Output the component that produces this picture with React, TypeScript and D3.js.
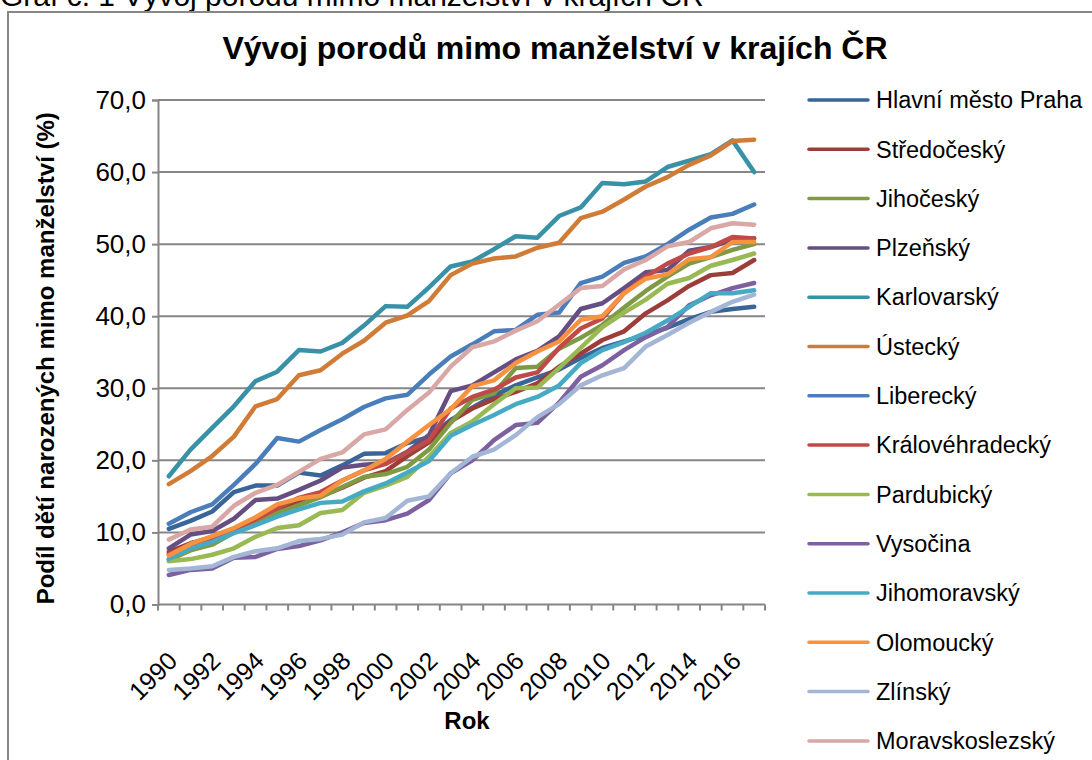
import React, { useEffect, useRef } from 'react';
import * as d3 from 'd3';

const years = [1990, 1991, 1992, 1993, 1994, 1995, 1996, 1997, 1998, 1999, 2000, 2001, 2002, 2003,
  2004, 2005, 2006, 2007, 2008, 2009, 2010, 2011, 2012, 2013, 2014, 2015, 2016, 2017];

const regions = ['Hlavní město Praha', 'Středočeský', 'Jihočeský', 'Plzeňský', 'Karlovarský', 'Ústecký',
  'Liberecký', 'Královéhradecký', 'Pardubický', 'Vysočina', 'Jihomoravský', 'Olomoucký', 'Zlínský',
  'Moravskoslezský'];

const colors = ['#3a6598', '#9c3d3a', '#7e9a44', '#654f82', '#3891a6', '#d17c36', '#4a7ebb', '#be4b48',
  '#98b954', '#7d60a0', '#46aac5', '#f69240', '#a4b6d5', '#d9a7a5'];

const praha = [10.5, 11.6, 12.9, 15.6, 16.5, 16.5, 18.3, 17.9, 19.3, 20.9, 21.0, 22.4, 23.2, 25.6,
  27.3, 29.0, 30.4, 31.5, 32.6, 34.2, 35.6, 36.5, 37.4, 38.4, 39.6, 40.6, 41.0, 41.3];
const stredocesky = [7.3, 8.5, 9.3, 10.4, 11.8, 12.9, 14.2, 15.0, 16.2, 17.6, 18.5, 20.6, 22.5, 25.4,
  27.2, 28.5, 29.5, 30.7, 33.0, 34.8, 36.7, 37.9, 40.4, 42.2, 44.2, 45.7, 46.0, 47.8];
const jihocesky = [6.2, 7.5, 8.3, 10.0, 11.5, 12.7, 13.8, 14.9, 16.3, 17.7, 18.1, 19.1, 21.5, 25.2,
  28.4, 29.3, 32.8, 33.0, 35.5, 37.0, 38.8, 41.2, 43.5, 45.5, 47.3, 48.2, 49.2, 50.0];
const plzensky = [7.8, 9.7, 10.2, 11.9, 14.5, 14.7, 15.9, 17.2, 19.0, 19.4, 19.6, 21.2, 23.5, 29.6,
  30.4, 32.2, 34.0, 35.2, 37.2, 41.0, 41.8, 43.9, 46.1, 46.4, 49.1, 49.6, 50.6, 50.8];
const karlovarsky = [17.8, 21.5, 24.5, 27.5, 31.0, 32.3, 35.3, 35.1, 36.3, 38.7, 41.4, 41.3, 44.0, 46.9,
  47.6, 49.3, 51.1, 50.9, 53.9, 55.1, 58.5, 58.3, 58.7, 60.7, 61.6, 62.5, 64.4, 60.0];
const ustecky = [16.7, 18.5, 20.6, 23.3, 27.5, 28.5, 31.8, 32.5, 34.8, 36.6, 39.1, 40.1, 42.1, 45.7,
  47.3, 48.0, 48.3, 49.5, 50.2, 53.6, 54.5, 56.2, 58.0, 59.3, 61.0, 62.3, 64.3, 64.5];
const liberecky = [11.2, 12.8, 13.9, 16.6, 19.5, 23.1, 22.6, 24.2, 25.7, 27.4, 28.6, 29.1, 31.9, 34.4,
  36.1, 37.9, 38.1, 40.2, 40.5, 44.6, 45.5, 47.4, 48.3, 50.0, 52.0, 53.7, 54.2, 55.5];
const kralovehradecky = [7.0, 8.3, 9.2, 10.4, 11.8, 13.4, 14.8, 15.6, 17.2, 18.6, 19.5, 21.1, 22.8, 27.2,
  28.8, 29.8, 31.5, 32.2, 35.6, 38.3, 39.7, 43.2, 45.5, 47.3, 48.7, 49.6, 51.0, 50.8];
const pardubicky = [6.0, 6.3, 6.9, 7.8, 9.4, 10.6, 11.0, 12.7, 13.1, 15.5, 16.5, 17.7, 20.5, 23.8,
  25.4, 27.8, 30.0, 30.1, 32.8, 35.6, 38.5, 40.5, 42.3, 44.5, 45.3, 47.0, 47.8, 48.7];
const vysocina = [4.1, 4.8, 5.0, 6.5, 6.6, 7.7, 8.1, 8.9, 10.0, 11.3, 11.7, 12.6, 14.5, 18.2,
  20.0, 22.8, 24.9, 25.2, 28.0, 31.6, 33.2, 35.3, 37.1, 38.5, 41.5, 42.9, 43.9, 44.6];
const jihomoravsky = [6.3, 7.8, 8.7, 9.9, 11.0, 12.2, 13.2, 14.1, 14.3, 15.7, 16.8, 18.3, 19.9, 23.4,
  24.9, 26.3, 27.8, 28.8, 30.4, 33.5, 35.3, 36.4, 37.7, 39.4, 41.3, 43.2, 43.2, 43.6];
const olomoucky = [6.8, 8.4, 9.5, 10.6, 12.1, 13.9, 14.7, 15.1, 17.2, 18.6, 20.2, 22.6, 24.9, 27.1,
  30.3, 31.1, 33.5, 35.1, 36.5, 39.5, 40.0, 43.2, 45.2, 45.8, 47.9, 48.2, 50.3, 50.3];
const zlinsky = [4.8, 5.0, 5.3, 6.6, 7.4, 7.8, 8.8, 9.1, 9.7, 11.4, 12.0, 14.4, 15.0, 18.2,
  20.5, 21.5, 23.5, 26.0, 27.8, 30.4, 31.8, 32.8, 35.8, 37.4, 39.1, 40.6, 42.0, 43.0];
const moravskoslezsky = [9.0, 10.4, 10.8, 13.7, 15.5, 16.6, 18.4, 20.2, 21.1, 23.6, 24.3, 27.0, 29.4, 33.0,
  35.7, 36.5, 38.0, 39.3, 41.6, 43.9, 44.2, 46.5, 47.8, 49.7, 50.3, 52.2, 52.9, 52.7];

const seriesValues = [praha, stredocesky, jihocesky, plzensky, karlovarsky, ustecky, liberecky,
  kralovehradecky, pardubicky, vysocina, jihomoravsky, olomoucky, zlinsky, moravskoslezsky];

const yTicks = [0, 10, 20, 30, 40, 50, 60, 70];
const xLabelYears = [1990, 1992, 1994, 1996, 1998, 2000, 2002, 2004, 2006, 2008, 2010, 2012, 2014, 2016];

const W = 1092;
const H = 760;
const FONT = '"Liberation Sans", Arial, sans-serif';

const App = () => {
  const svgRef = useRef<SVGSVGElement>(null);

  useEffect(() => {
    const svg = d3.select(svgRef.current);
    svg.selectAll('*').remove();

    const left = 158, right = 765, top = 100, bottom = 604.5;
    const axisColor = '#868686';

    const x = d3.scaleBand<number>().domain(years).range([left, right]);
    const y = d3.scaleLinear().domain([0, 70]).range([bottom, top]);
    const cx = (yr: number) => (x(yr) as number) + x.bandwidth() / 2;

    // caption, cut off by the top edge like in the source
    svg.append('text')
      .attr('x', 0).attr('y', 6)
      .attr('font-family', FONT).attr('font-size', 30)
      .attr('fill', '#000')
      .text('Graf č. 1 Vývoj porodů mimo manželství v krajích ČR');

    // chart border
    svg.append('rect')
      .attr('x', 8).attr('y', 12)
      .attr('width', W + 20).attr('height', H + 20)
      .attr('fill', 'none').attr('stroke', axisColor).attr('stroke-width', 2);

    // title
    svg.append('text')
      .attr('x', 555).attr('y', 59)
      .attr('text-anchor', 'middle')
      .attr('font-family', FONT).attr('font-size', 32).attr('font-weight', 'bold')
      .text('Vývoj porodů mimo manželství v krajích ČR');

    // gridlines
    svg.append('g')
      .selectAll('line')
      .data(yTicks.filter(t => t > 0))
      .enter()
      .append('line')
      .attr('x1', left).attr('x2', right)
      .attr('y1', d => y(d)).attr('y2', d => y(d))
      .attr('stroke', axisColor).attr('stroke-width', 2);

    // y axis
    const yAxis = svg.append('g')
      .attr('transform', `translate(${left},0)`)
      .call(d3.axisLeft(y).tickValues(yTicks).tickSize(6).tickPadding(6)
        .tickFormat(d => d3.format('.1f')(d as number).replace('.', ',')));
    yAxis.select('.domain').attr('stroke', axisColor).attr('stroke-width', 2);
    yAxis.selectAll('.tick line').attr('stroke', axisColor).attr('stroke-width', 2);
    yAxis.selectAll('.tick text')
      .attr('font-family', FONT).attr('font-size', 26).attr('fill', '#000');

    // x axis line with ticks between categories
    svg.append('line')
      .attr('x1', left).attr('x2', right)
      .attr('y1', bottom).attr('y2', bottom)
      .attr('stroke', axisColor).attr('stroke-width', 2);
    const tickPos = years.map(yr => x(yr) as number).concat([right]);
    svg.append('g')
      .selectAll('line')
      .data(tickPos)
      .enter()
      .append('line')
      .attr('x1', d => d).attr('x2', d => d)
      .attr('y1', bottom).attr('y2', bottom + 6)
      .attr('stroke', axisColor).attr('stroke-width', 2);

    svg.append('g')
      .selectAll('text')
      .data(xLabelYears)
      .enter()
      .append('text')
      .attr('transform', d => `translate(${cx(d) + 10},${bottom + 58}) rotate(-45)`)
      .attr('text-anchor', 'end')
      .attr('font-family', FONT).attr('font-size', 25)
      .text(d => d);

    // axis titles
    svg.append('text')
      .attr('x', 467).attr('y', 729)
      .attr('text-anchor', 'middle')
      .attr('font-family', FONT).attr('font-size', 24).attr('font-weight', 'bold')
      .text('Rok');
    svg.append('text')
      .attr('transform', `translate(54,${(top + bottom) / 2 + 6}) rotate(-90)`)
      .attr('text-anchor', 'middle')
      .attr('font-family', FONT).attr('font-size', 24).attr('font-weight', 'bold')
      .text('Podíl dětí narozených mimo manželství (%)');

    // lines
    const line = d3.line<number>()
      .x((_, i) => cx(years[i]))
      .y(d => y(d));

    svg.append('g')
      .selectAll('path')
      .data(seriesValues)
      .enter()
      .append('path')
      .attr('d', d => line(d))
      .attr('fill', 'none')
      .attr('stroke', (_, i) => colors[i])
      .attr('stroke-width', 4.5)
      .attr('stroke-linejoin', 'round')
      .attr('stroke-linecap', 'round');

    // legend
    const legend = svg.append('g')
      .selectAll('g')
      .data(regions)
      .enter()
      .append('g')
      .attr('transform', (_, i) => `translate(0,${100 + i * 49.3})`);
    legend.append('line')
      .attr('x1', 809).attr('x2', 868)
      .attr('y1', 0).attr('y2', 0)
      .attr('stroke', (_, i) => colors[i])
      .attr('stroke-width', 3.5)
      .attr('stroke-linecap', 'round');
    legend.append('text')
      .attr('x', 876).attr('y', 0).attr('dy', '0.35em')
      .attr('font-family', FONT).attr('font-size', 23.5)
      .text(d => d);
  }, []);

  return (
    <div style={{ position: 'absolute', left: 0, top: 0 }}>
      <svg ref={svgRef} width={W} height={H} style={{ display: 'block', background: '#fff' }} />
    </div>
  );
};

export default App;
